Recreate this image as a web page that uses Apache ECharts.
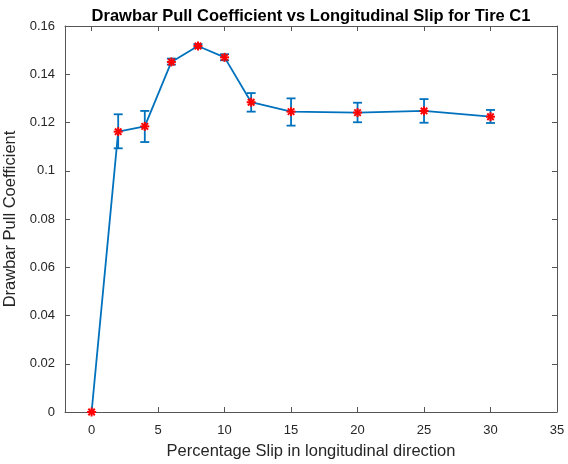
<!DOCTYPE html>
<html>
<head>
<meta charset="utf-8">
<script src="https://cdn.jsdelivr.net/npm/echarts@6/dist/echarts.min.js"></script>
<style>
  html, body { margin: 0; padding: 0; background: #fff; }
  #chart { width: 568px; height: 464px; }
</style>
</head>
<body>
<div id="chart"></div>
<script>
// Drawbar pull coefficient measured at each slip level, with error bounds
const slip = [0, 2, 4, 6, 8, 10, 12, 15, 20, 25, 30];
const pullCoef = [0, 0.1162, 0.1184, 0.1451, 0.1517, 0.1470, 0.1284, 0.1245, 0.1241, 0.1248, 0.1224];
const lowerBound = [0, 0.1093, 0.1119, 0.1440, 0.1509, 0.1458, 0.1245, 0.1187, 0.1201, 0.1199, 0.1198];
const upperBound = [0, 0.1234, 0.1248, 0.1465, 0.1525, 0.1483, 0.1322, 0.1300, 0.1282, 0.1297, 0.1252];
const xTicks = [0, 5, 10, 15, 20, 25, 30, 35];

const lineBlue = '#0072BD';
const axisGray = '#555';
const textColor = '#262626';
const font = 'Liberation Sans, Arial, sans-serif';

const chart = echarts.init(document.getElementById('chart'), null, { renderer: 'canvas' });

const errData = slip.map((s, i) => [s, lowerBound[i], upperBound[i]]);
const ptData = slip.map((s, i) => [s, pullCoef[i]]);

function boxAxis(extraTick) {
  return {
    axisLine: { show: true, onZero: false, lineStyle: { color: axisGray, width: 1 } },
    axisTick: Object.assign({ show: true, inside: true, length: 5, lineStyle: { color: axisGray } }, extraTick || {}),
    splitLine: { show: false }
  };
}

chart.setOption({
  animation: false,
  backgroundColor: '#fff',
  title: {
    text: 'Drawbar Pull Coefficient vs Longitudinal Slip for Tire C1',
    left: 306,
    textAlign: 'center',
    top: 3,
    textStyle: { fontFamily: font, fontSize: 16.5, fontWeight: 'bold', color: '#000' }
  },
  grid: { left: 65, right: 11, top: 26, bottom: 52, containLabel: false, outerBoundsMode: 'none' },
  xAxis: [
    Object.assign({
      type: 'value', min: -2, max: 35, position: 'bottom',
      name: 'Percentage Slip in longitudinal direction',
      nameLocation: 'middle', nameGap: 31,
      nameTextStyle: { fontFamily: font, fontSize: 16.5, color: textColor },
      axisLabel: { customValues: xTicks, margin: 12, fontFamily: font, fontSize: 13, color: textColor }
    }, boxAxis({ customValues: xTicks })),
    Object.assign({
      type: 'value', min: -2, max: 35, position: 'top',
      axisLabel: { show: false }
    }, boxAxis({ customValues: xTicks }))
  ],
  yAxis: [
    Object.assign({
      type: 'value', min: 0, max: 0.16, interval: 0.02, position: 'left',
      name: 'Drawbar Pull Coefficient',
      nameLocation: 'middle', nameGap: 46,
      nameTextStyle: { fontFamily: font, fontSize: 16.5, color: textColor },
      axisLabel: { margin: 10, fontFamily: font, fontSize: 13, color: textColor }
    }, boxAxis()),
    Object.assign({
      type: 'value', min: 0, max: 0.16, interval: 0.02, position: 'right',
      axisLabel: { show: false }
    }, boxAxis())
  ],
  series: [
    {
      type: 'line',
      data: ptData,
      symbol: 'none',
      lineStyle: { color: lineBlue, width: 1.8 },
      z: 2
    },
    {
      // vertical error bars with caps
      type: 'custom',
      data: errData,
      z: 3,
      renderItem: function (params, api) {
        const x = api.value(0);
        const lo = api.coord([x, api.value(1)]);
        const hi = api.coord([x, api.value(2)]);
        const cap = 4.5;
        const style = { stroke: lineBlue, lineWidth: 1.8, fill: null };
        return {
          type: 'group',
          children: [
            { type: 'line', shape: { x1: lo[0], y1: lo[1], x2: hi[0], y2: hi[1] }, style },
            { type: 'line', shape: { x1: hi[0] - cap, y1: hi[1], x2: hi[0] + cap, y2: hi[1] }, style },
            { type: 'line', shape: { x1: lo[0] - cap, y1: lo[1], x2: lo[0] + cap, y2: lo[1] }, style }
          ]
        };
      }
    },
    {
      // red asterisk markers
      type: 'custom',
      data: ptData,
      z: 4,
      renderItem: function (params, api) {
        const p = api.coord([api.value(0), api.value(1)]);
        const r = 4.5, d = r * 0.72;
        const style = { stroke: '#FF0000', lineWidth: 2, fill: null };
        const seg = (x1, y1, x2, y2) => ({
          type: 'line', shape: { x1: p[0] + x1, y1: p[1] + y1, x2: p[0] + x2, y2: p[1] + y2 }, style
        });
        return {
          type: 'group',
          children: [
            seg(-r, 0, r, 0),
            seg(0, -r, 0, r),
            seg(-d, -d, d, d),
            seg(-d, d, d, -d)
          ]
        };
      }
    }
  ]
});
</script>
</body>
</html>
